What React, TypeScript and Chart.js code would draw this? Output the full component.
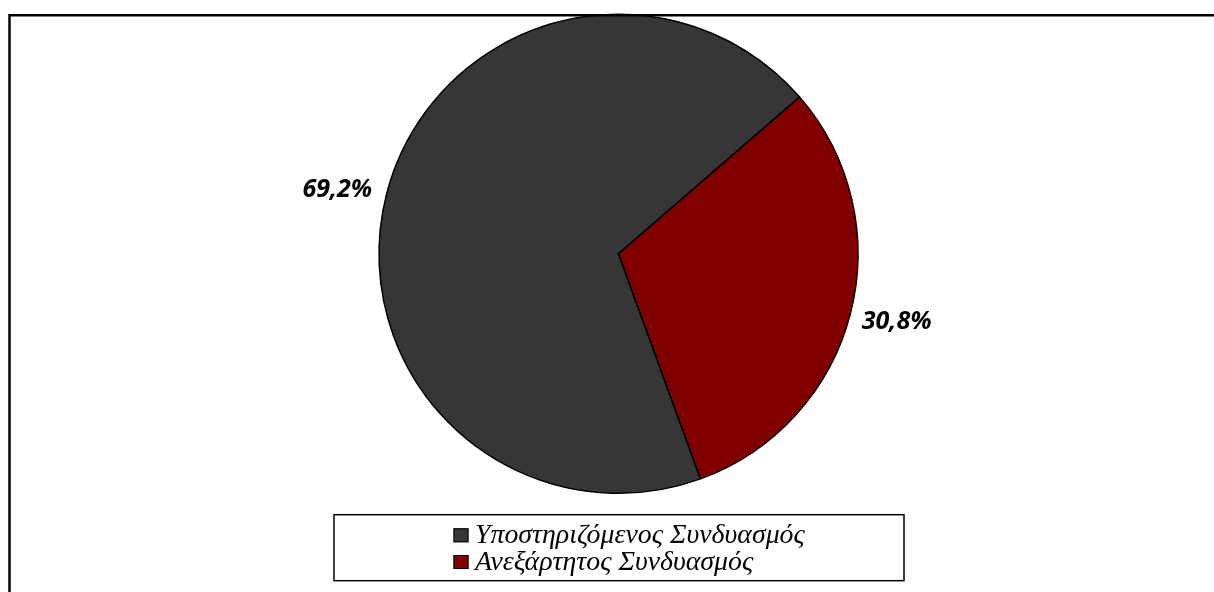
import React, { useEffect, useRef } from "react";
import { Chart, registerables } from "chart.js";

Chart.register(...registerables);

const categories = ["Υποστηριζόμενος Συνδυασμός", "Ανεξάρτητος Συνδυασμός"];
const values = [69.2, 30.8];
const valueLabels = ["69,2%", "30,8%"];
const colors = ["#363636", "#800000"];
const labelOffsets = [
  [0, 9],
  [-3, -5],
];

const decorPlugin = {
  id: "decor",
  afterDraw(chart: any) {
    const ctx = chart.ctx as CanvasRenderingContext2D;
    ctx.save();
    // outer frame (left + top lines, right/bottom beyond view)
    ctx.strokeStyle = "#000";
    ctx.lineWidth = 2.5;
    ctx.beginPath();
    ctx.moveTo(9.5, 800);
    ctx.lineTo(9.5, 15.3);
    ctx.lineTo(1400, 15.3);
    ctx.stroke();

    // data labels
    const meta = chart.getDatasetMeta(0);
    ctx.fillStyle = "#000";
    ctx.font = "italic bold 25px 'Open Sans'";
    ctx.textAlign = "center";
    ctx.textBaseline = "middle";
    meta.data.forEach((arc: any, i: number) => {
      const p = arc.getProps(["x", "y", "startAngle", "endAngle", "outerRadius"], true);
      const mid = (p.startAngle + p.endAngle) / 2;
      const d = p.outerRadius + 51;
      ctx.fillText(
        valueLabels[i],
        p.x + Math.cos(mid) * d + labelOffsets[i][0],
        p.y + Math.sin(mid) * d + labelOffsets[i][1]
      );
    });

    // legend box
    ctx.lineWidth = 1.5;
    ctx.strokeStyle = "#000";
    ctx.strokeRect(334, 514.7, 570, 66);

    const labels: string[] = chart.data.labels;
    const bg: string[] = chart.data.datasets[0].backgroundColor;
    // font size fitted so the first label spans the reference width
    ctx.font = "italic 100px 'Liberation Serif'";
    const w100 = ctx.measureText(labels[0]).width;
    const size = (330 / w100) * 100;
    ctx.font = `italic ${size.toFixed(2)}px 'Liberation Serif'`;
    ctx.textAlign = "left";
    ctx.textBaseline = "alphabetic";
    const rows = [535.3, 562];
    labels.forEach((lab, i) => {
      const cy = rows[i];
      ctx.fillStyle = bg[i];
      ctx.fillRect(453.5, cy - 7, 15, 14);
      ctx.lineWidth = 1;
      ctx.strokeStyle = "#000";
      ctx.strokeRect(454, cy - 6.5, 14, 13);
      ctx.fillStyle = "#000";
      ctx.fillText(lab, 475, cy + 7.5);
    });
    ctx.restore();
  },
};

export default function App() {
  const ref = useRef<HTMLCanvasElement | null>(null);

  useEffect(() => {
    if (!ref.current) return;
    const chart = new Chart(ref.current, {
      type: "pie",
      data: {
        labels: categories,
        datasets: [
          {
            data: values,
            backgroundColor: colors,
            borderColor: "#000",
            borderWidth: 1.5,
          },
        ],
      },
      options: {
        responsive: false,
        animation: false,
        events: [],
        rotation: 160,
        radius: 239.5,
        layout: { padding: { left: 23, right: 0, top: 10, bottom: 94.4 } },
        plugins: {
          legend: { display: false },
          tooltip: { enabled: false },
          title: { display: false },
        },
      } as any,
      plugins: [decorPlugin],
    });
    return () => chart.destroy();
  }, []);

  return (
    <div style={{ position: "fixed", left: 0, top: 0, width: 1214, height: 592, background: "#fff" }}>
      <canvas ref={ref} width={1214} height={592} style={{ display: "block" }} />
    </div>
  );
}
